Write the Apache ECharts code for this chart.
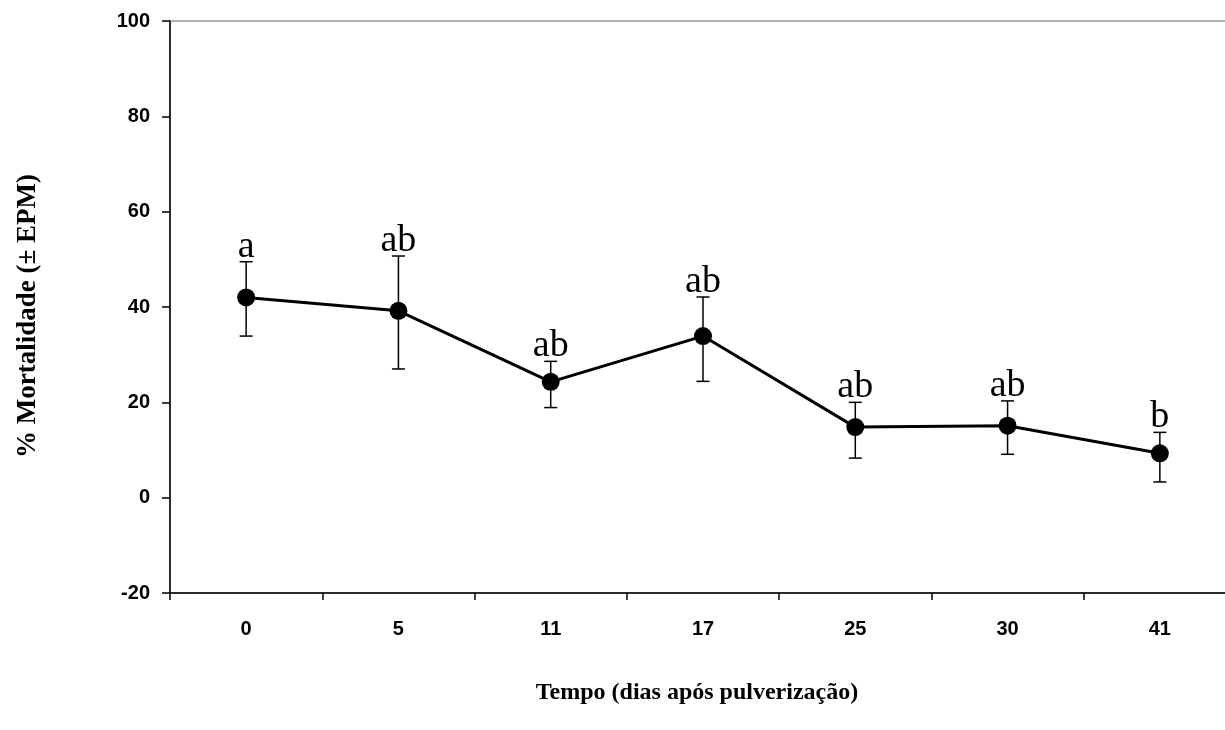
<!DOCTYPE html>
<html>
<head>
<meta charset="utf-8">
<script src="https://cdn.jsdelivr.net/npm/echarts@6/dist/echarts.min.js"></script>
<style>
html,body{margin:0;padding:0;background:#fff;}
#chart{width:1225px;height:730px;}
</style>
</head>
<body>
<div id="chart"></div>
<script>
const categories = ['0', '5', '11', '17', '25', '30', '41'];
const mortality = [42.0, 39.2, 24.3, 33.9, 14.8, 15.1, 9.3];
const errUpper = [49.5, 50.7, 28.6, 42.1, 20.0, 20.3, 13.7];
const errLower = [33.9, 27.0, 18.9, 24.4, 8.3, 9.1, 3.3];
const letters = ['a', 'ab', 'ab', 'ab', 'ab', 'ab', 'b'];
const yMin = -20, yMax = 100, yStep = 20;
const xTitle = 'Tempo (dias após pulverização)';
const yTitle = '% Mortalidade (± EPM)';

const chart = echarts.init(document.getElementById('chart'), null, {renderer: 'canvas'});

const errData = categories.map((c, i) => [i, errLower[i], errUpper[i]]);

const option = {
  animation: false,
  backgroundColor: '#ffffff',
  grid: {
    left: 170, top: 21, width: 1066, height: 572,
    outerBoundsMode: 'none', containLabel: false,
    show: true, borderColor: '#999999', borderWidth: 1.5, backgroundColor: 'transparent'
  },
  xAxis: {
    type: 'category',
    data: categories,
    boundaryGap: true,
    axisLine: {onZero: false, lineStyle: {color: '#000', width: 1.5}},
    axisTick: {show: true, inside: false, length: 7, alignWithLabel: false, lineStyle: {color: '#000', width: 1.5}},
    axisLabel: {margin: 26, color: '#000', fontFamily: 'Liberation Sans', fontWeight: 'bold', fontSize: 20},
    splitLine: {show: false}
  },
  yAxis: {
    type: 'value',
    min: yMin, max: yMax, interval: yStep,
    axisLine: {show: true, onZero: false, lineStyle: {color: '#000', width: 1.5}},
    axisTick: {show: true, inside: false, length: 8, lineStyle: {color: '#000', width: 1.5}},
    axisLabel: {margin: 20, color: '#000', fontFamily: 'Liberation Sans', fontWeight: 'bold', fontSize: 20},
    splitLine: {show: false}
  },
  graphic: [
    {
      type: 'text', x: 697, y: 693,
      style: {text: xTitle, fill: '#000', font: 'bold 24px "Liberation Serif"', textAlign: 'center', textVerticalAlign: 'middle'}
    },
    {
      type: 'text', x: 28, y: 316, rotation: Math.PI / 2,
      style: {text: yTitle, fill: '#000', font: 'bold 27px "Liberation Serif"', textAlign: 'center', textVerticalAlign: 'middle'}
    }
  ],
  series: [
    {
      type: 'custom',
      data: errData,
      z: 1,
      renderItem: function (params, api) {
        const i = api.value(0);
        const lo = api.coord([i, api.value(1)]);
        const hi = api.coord([i, api.value(2)]);
        const hw = 6.5;
        const ls = {stroke: '#000', lineWidth: 1.5};
        return {
          type: 'group',
          children: [
            {type: 'line', shape: {x1: hi[0], y1: hi[1], x2: lo[0], y2: lo[1]}, style: ls},
            {type: 'line', shape: {x1: hi[0] - hw, y1: hi[1], x2: hi[0] + hw, y2: hi[1]}, style: ls},
            {type: 'line', shape: {x1: lo[0] - hw, y1: lo[1], x2: lo[0] + hw, y2: lo[1]}, style: ls},
            {type: 'text', x: hi[0], y: hi[1] + 4,
             style: {text: letters[params.dataIndex], fill: '#000', font: '38px "Liberation Serif"', textAlign: 'center', textVerticalAlign: 'bottom'}}
          ]
        };
      }
    },
    {
      type: 'line',
      data: mortality,
      z: 3,
      symbol: 'circle',
      symbolSize: 18,
      itemStyle: {color: '#000'},
      lineStyle: {color: '#000', width: 3}
    }
  ]
};
chart.setOption(option);
</script>
</body>
</html>
